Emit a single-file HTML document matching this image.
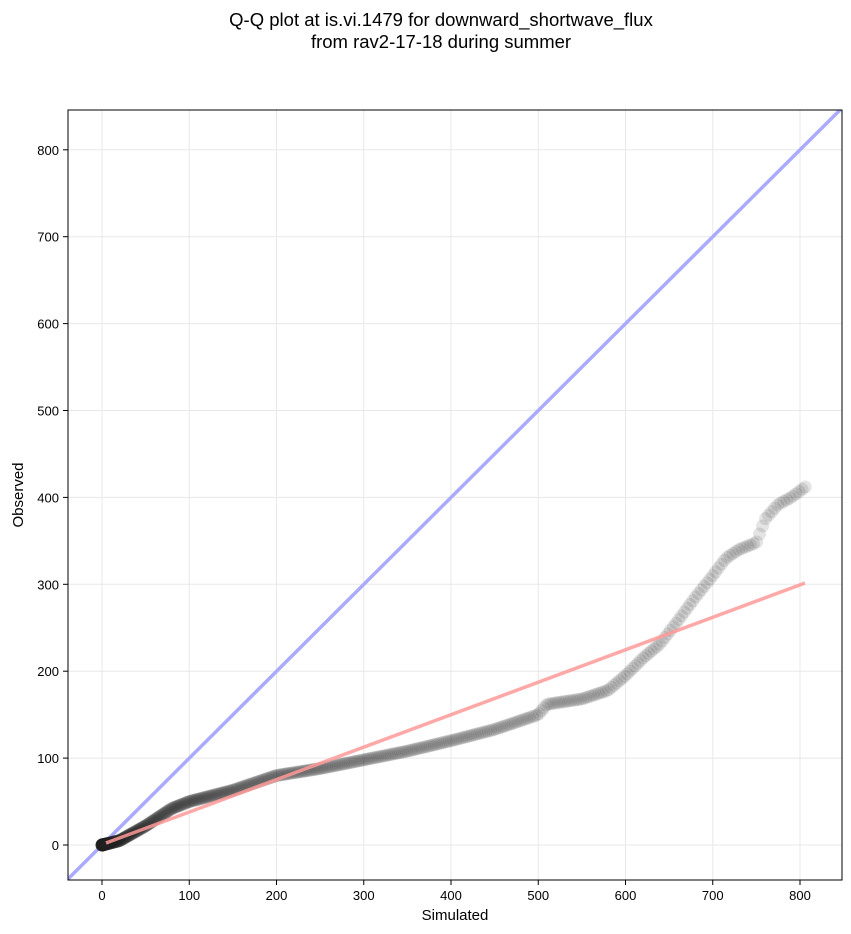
<!DOCTYPE html>
<html><head><meta charset="utf-8"><style>
html,body{margin:0;padding:0;background:#fff;}
svg{display:block;font-family:"Liberation Sans","DejaVu Sans",sans-serif;}
</style></head><body>
<svg id="s" width="851" height="934" xmlns="http://www.w3.org/2000/svg">
<rect width="851" height="934" fill="#fff"/>
<text x="441" y="26" text-anchor="middle" font-size="18.5">Q-Q plot at is.vi.1479 for downward_shortwave_flux</text>
<text x="441" y="48" text-anchor="middle" font-size="18.5">from rav2-17-18 during summer</text>
<defs><clipPath id="c"><rect x="68" y="110" width="774" height="770"/></clipPath></defs>
<g id="grid" stroke="#e8e8e8" stroke-width="1"></g>
<g clip-path="url(#c)">
<line x1="68" y1="879" x2="842" y2="108" stroke="#aaaaff" stroke-width="3.5"/>
<g id="pts"></g>
<line x1="106" y1="843" x2="805" y2="583" stroke="#ff9999" stroke-opacity="0.85" stroke-width="3.5"/>
</g>
<rect x="68" y="110" width="774" height="770" fill="none" stroke="#000" stroke-width="1"/>
<g id="ticks" font-size="13"></g>
<text x="455" y="920" text-anchor="middle" font-size="15">Simulated</text>
<text transform="translate(23,495) rotate(-90)" text-anchor="middle" font-size="15">Observed</text>
</svg>
<script>
const NS="http://www.w3.org/2000/svg";
const X=v=>102+v*0.8725, Y=v=>845-v*0.869;
const g=document.getElementById('grid'),t=document.getElementById('ticks');
function el(p,n,a,txt){const e=document.createElementNS(NS,n);for(const k in a)e.setAttribute(k,a[k]);if(txt!==undefined)e.textContent=txt;p.appendChild(e);return e;}
for(let v=0;v<=800;v+=100){
 el(g,'line',{x1:X(v),x2:X(v),y1:110,y2:880});
 el(g,'line',{x1:68,x2:842,y1:Y(v),y2:Y(v)});
 el(t,'line',{x1:X(v),x2:X(v),y1:880,y2:885,stroke:'#000'});
 el(t,'text',{x:X(v),y:900,'text-anchor':'middle'},v);
 el(t,'line',{x1:63,x2:68,y1:Y(v),y2:Y(v),stroke:'#000'});
 el(t,'text',{x:59,y:Y(v)+5,'text-anchor':'end'},v);
}
const k=[[0,0],[20,5],[50,22],[80,42],[100,50],[150,63],[200,80],[250,88],[300,98],[350,108],[400,120],[450,133],[500,150],[510,162],[550,168],[580,178],[600,195],[620,215],[640,232],[660,258],[680,285],[700,310],[715,330],[730,340],[750,348],[760,375],[775,392],[790,400],[806,412]];
function f(s){for(let i=0;i<k.length-1;i++){if(s<=k[i+1][0]){const a=k[i],b=k[i+1];return a[1]+(b[1]-a[1])*(s-a[0])/(b[0]-a[0]);}}return 412;}
const p=document.getElementById('pts');
const N=500;
for(let i=0;i<N;i++){const u=i/(N-1);const s=806*Math.pow(u,2.2);
 el(p,'circle',{cx:X(s),cy:Y(f(s)),r:6.5,fill:'#222','fill-opacity':0.12});}
</script>
</body></html>
